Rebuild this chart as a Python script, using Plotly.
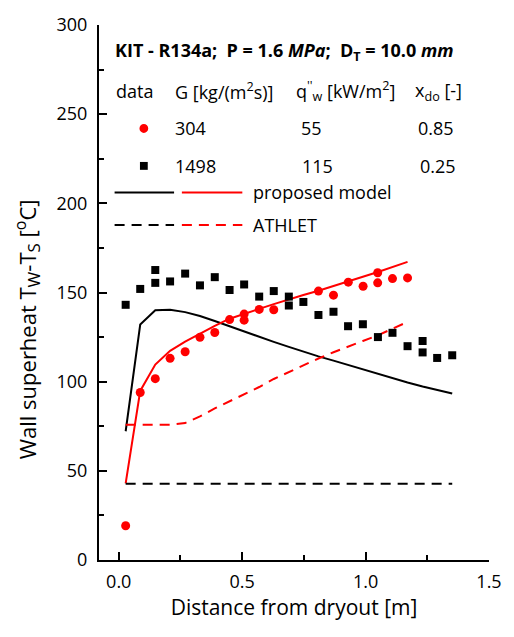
import plotly.graph_objects as go

# ---------------- data ----------------
x_black_data = [0.028, 0.087, 0.148, 0.148, 0.208, 0.269, 0.329, 0.389, 0.449, 0.508,
                0.569, 0.628, 0.689, 0.689, 0.748, 0.809, 0.870, 0.929, 0.989, 1.050,
                1.109, 1.170, 1.231, 1.231, 1.290, 1.351]
y_black_data = [143.1, 152.0, 162.6, 155.4, 156.2, 160.6, 154.0, 158.6, 151.4, 154.5,
                147.7, 150.8, 147.7, 142.7, 144.7, 137.4, 139.2, 131.1, 132.2, 125.0,
                127.4, 119.9, 122.8, 116.4, 113.3, 114.8]

x_red_data = [0.028, 0.087, 0.148, 0.208, 0.269, 0.329, 0.389, 0.449, 0.508, 0.508,
              0.569, 0.628, 0.809, 0.870, 0.930, 0.990, 1.049, 1.049, 1.109, 1.170]
y_red_data = [19.2, 93.9, 101.7, 113.1, 116.8, 124.9, 127.6, 134.8, 134.5, 137.9,
              140.5, 140.3, 150.8, 148.5, 155.8, 153.5, 161.1, 155.4, 157.8, 158.2]

x_model = [0.028, 0.087, 0.148, 0.208, 0.269, 0.329, 0.389, 0.449, 0.508, 0.569,
           0.628, 0.689, 0.748, 0.809, 0.870, 0.929, 0.989, 1.050, 1.109, 1.170,
           1.231, 1.290, 1.351]
y_black_model = [72.2, 132.0, 140.0, 140.3, 139.0, 136.8, 134.0, 131.0, 128.0, 125.2,
                 122.3, 119.5, 116.8, 114.2, 111.8, 109.3, 107.0, 104.6, 102.0, 99.5,
                 97.3, 95.3, 93.4]
y_red_model = [43.0, 94.8, 109.6, 117.3, 122.5, 127.0, 131.3, 135.3, 138.2, 140.8,
               143.5, 146.2, 148.6, 151.0, 153.5, 156.2, 158.8, 161.5, 164.3, 167.2]
y_red_athlet = [75.9, 75.9, 75.9, 75.9, 76.8, 80.5, 85.0, 89.0, 93.3, 97.0,
                101.5, 105.5, 109.3, 113.0, 116.5, 119.8, 122.8, 126.0, 129.8, 133.5]
x_black_athlet = [0.028, 1.351]
y_black_athlet = [42.7, 42.7]

header = ["data", "G [kg/(m<sup>2</sup>s)]", "q<sup>''</sup><sub>w</sub> [kW/m<sup>2</sup>]", "x<sub>do</sub> [-]"]
row_red = ["304", "55", "0.85"]
row_black = ["1498", "115", "0.25"]

FONT = "Open Sans"
fig = go.Figure()

fig.add_trace(go.Scatter(x=x_model, y=y_black_model, mode="lines",
                         line=dict(color="black", width=2), showlegend=False))
fig.add_trace(go.Scatter(x=x_model[:len(y_red_model)], y=y_red_model, mode="lines",
                         line=dict(color="red", width=2), showlegend=False))
fig.add_trace(go.Scatter(x=x_model[:len(y_red_athlet)], y=y_red_athlet, mode="lines",
                         line=dict(color="red", width=2, dash="10px,7px"), showlegend=False))
fig.add_trace(go.Scatter(x=x_black_athlet, y=y_black_athlet, mode="lines",
                         line=dict(color="black", width=2, dash="10px,7px"), showlegend=False))
fig.add_trace(go.Scatter(x=x_black_data, y=y_black_data, mode="markers",
                         marker=dict(symbol="square", size=8, color="black"), showlegend=False))
fig.add_trace(go.Scatter(x=x_red_data, y=y_red_data, mode="markers",
                         marker=dict(symbol="circle", size=9, color="red"), showlegend=False))

# pixel -> paper helpers for the in-plot legend table
L, R, T, B = 99, 499, 17, 560
def px(x):
    return (x - L) / (R - L)
def py(y):
    return (B - y) / (B - T)

anns = []
def txt(x, y, s, size=18):
    anns.append(dict(x=px(x), y=py(y), xref="paper", yref="paper", text=s, showarrow=False,
                     xanchor="left", yanchor="middle", font=dict(family=FONT, size=size, color="black")))

txt(113, 44, "<b>KIT - R134a;  P = 1.6 <i>MPa</i>;  D<sub>T</sub> = 10.0 <i>mm</i></b>", 18)
for xs, s in zip([114, 175, 299, 421], header):
    txt(xs, 84, s)
for xs, s in zip([175, 304, 424], row_red):
    txt(xs, 122, s)
for xs, s in zip([175, 305, 426], row_black):
    txt(xs, 160, s)
txt(255, 187, "proposed model")
txt(255, 220, "ATHLET")

# y axis title as rotated annotation
anns.append(dict(x=px(26), y=py(326), xref="paper", yref="paper", textangle=-90, showarrow=False,
                 xanchor="center", yanchor="middle",
                 text="Wall superheat T<sub><span style='font-size:17px'>W</span></sub>-T<sub><span style='font-size:17px'>S</span></sub> [<sup><span style='font-size:16px'>o</span></sup>C]",
                 font=dict(family=FONT, size=22, color="black")))

shapes = []
def seg(x0, x1, y, color, dash="solid"):
    shapes.append(dict(type="line", xref="paper", yref="paper", x0=px(x0), x1=px(x1), y0=py(y), y1=py(y),
                       line=dict(color=color, width=2, dash=dash)))
seg(115, 176, 187, "black")
seg(184, 246, 187, "red")
seg(115, 176, 220, "black", "10px,7px")
seg(184, 246, 220, "red", "10px,7px")
shapes.append(dict(type="circle", xref="paper", yref="paper", x0=px(140.5), x1=px(149.5),
                   y0=py(126.5), y1=py(117.5), fillcolor="red", line=dict(width=0)))
shapes.append(dict(type="rect", xref="paper", yref="paper", x0=px(141), x1=px(149),
                   y0=py(164), y1=py(156), fillcolor="black", line=dict(width=0)))

fig.update_layout(
    width=514, height=637,
    margin=dict(l=L, r=514 - R, t=T, b=637 - B),
    plot_bgcolor="white", paper_bgcolor="white",
    font=dict(family=FONT, size=18, color="black"),
    annotations=anns, shapes=shapes,
    xaxis=dict(range=[-0.08, 1.5], tickvals=[0, 0.5, 1.0, 1.5], ticktext=["0.0", "0.5", "1.0", "1.5"],
               ticks="inside", ticklen=8, tickwidth=1.5, tickcolor="black",
               minor=dict(tickvals=[0.25, 0.75, 1.25], ticks="inside", ticklen=5, tickwidth=1.5, tickcolor="black"),
               showline=True, linecolor="black", linewidth=2, showgrid=False, zeroline=False,
               tickfont=dict(family=FONT, size=18), ticklabelstandoff=4,
               title=dict(text="Distance from dryout [m]", font=dict(family=FONT, size=21), standoff=8)),
    yaxis=dict(range=[0, 300], tickvals=[0, 50, 100, 150, 200, 250, 300],
               ticks="inside", ticklen=8, tickwidth=1.5, tickcolor="black",
               minor=dict(tickvals=[25, 75, 125, 175, 225, 275], ticks="inside", ticklen=5, tickwidth=1.5, tickcolor="black"),
               showline=True, linecolor="black", linewidth=2, showgrid=False, zeroline=False,
               tickfont=dict(family=FONT, size=18), ticklabelstandoff=6),
)

fig.write_html("out.html")
